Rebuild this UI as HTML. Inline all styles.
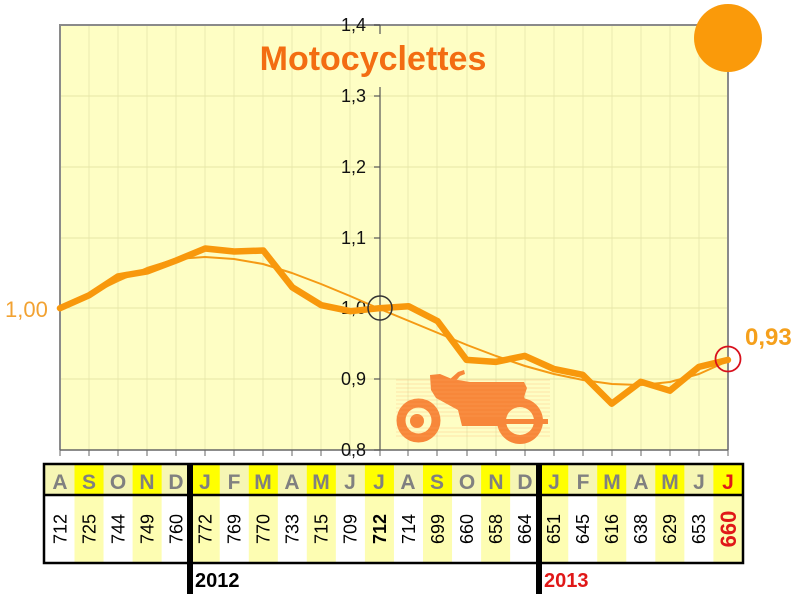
<!DOCTYPE html>
<html><head><meta charset="utf-8"><style>
html,body{margin:0;padding:0;background:#fff;}
svg{display:block;font-family:"Liberation Sans",Arial,sans-serif;}
</style></head><body>
<svg width="800" height="598" viewBox="0 0 800 598" xmlns="http://www.w3.org/2000/svg">
<!-- plot background -->
<rect x="60" y="25" width="668" height="425" fill="#fefec4"/>
<!-- vertical grid -->
<g stroke="#ebebb0" stroke-width="1">
<line x1="89" y1="25" x2="89" y2="450"/><line x1="118" y1="25" x2="118" y2="450"/><line x1="147" y1="25" x2="147" y2="450"/><line x1="176" y1="25" x2="176" y2="450"/><line x1="205" y1="25" x2="205" y2="450"/><line x1="234" y1="25" x2="234" y2="450"/><line x1="263" y1="25" x2="263" y2="450"/><line x1="292" y1="25" x2="292" y2="450"/><line x1="321" y1="25" x2="321" y2="450"/><line x1="350" y1="25" x2="350" y2="450"/><line x1="408" y1="25" x2="408" y2="450"/><line x1="437" y1="25" x2="437" y2="450"/><line x1="467" y1="25" x2="467" y2="450"/><line x1="496" y1="25" x2="496" y2="450"/><line x1="525" y1="25" x2="525" y2="450"/><line x1="554" y1="25" x2="554" y2="450"/><line x1="583" y1="25" x2="583" y2="450"/><line x1="612" y1="25" x2="612" y2="450"/><line x1="641" y1="25" x2="641" y2="450"/><line x1="670" y1="25" x2="670" y2="450"/><line x1="699" y1="25" x2="699" y2="450"/>
</g>
<!-- horizontal grid -->
<g stroke="#e6e6a6" stroke-width="1">
<line x1="60" y1="96" x2="728" y2="96"/><line x1="60" y1="167" x2="728" y2="167"/><line x1="60" y1="238" x2="728" y2="238"/><line x1="60" y1="308" x2="728" y2="308"/><line x1="60" y1="379" x2="728" y2="379"/>
</g>
<!-- plot border -->
<polyline points="60,450 60,25 728,25 728,450" fill="none" stroke="#8a8a8a" stroke-width="2"/>
<!-- x axis -->
<line x1="60" y1="450" x2="728" y2="450" stroke="#666" stroke-width="1.5"/>
<g stroke="#666" stroke-width="1">
<line x1="60" y1="450" x2="60" y2="456"/><line x1="89" y1="450" x2="89" y2="456"/><line x1="118" y1="450" x2="118" y2="456"/><line x1="147" y1="450" x2="147" y2="456"/><line x1="176" y1="450" x2="176" y2="456"/><line x1="205" y1="450" x2="205" y2="456"/><line x1="234" y1="450" x2="234" y2="456"/><line x1="263" y1="450" x2="263" y2="456"/><line x1="292" y1="450" x2="292" y2="456"/><line x1="321" y1="450" x2="321" y2="456"/><line x1="350" y1="450" x2="350" y2="456"/><line x1="380" y1="450" x2="380" y2="456"/><line x1="408" y1="450" x2="408" y2="456"/><line x1="437" y1="450" x2="437" y2="456"/><line x1="467" y1="450" x2="467" y2="456"/><line x1="496" y1="450" x2="496" y2="456"/><line x1="525" y1="450" x2="525" y2="456"/><line x1="554" y1="450" x2="554" y2="456"/><line x1="583" y1="450" x2="583" y2="456"/><line x1="612" y1="450" x2="612" y2="456"/><line x1="641" y1="450" x2="641" y2="456"/><line x1="670" y1="450" x2="670" y2="456"/><line x1="699" y1="450" x2="699" y2="456"/><line x1="728" y1="450" x2="728" y2="456"/>
</g>
<!-- y axis -->
<line x1="380" y1="25" x2="380" y2="34" stroke="#555" stroke-width="1.2"/>
<line x1="380" y1="87" x2="380" y2="450" stroke="#555" stroke-width="1.2"/>
<g stroke="#555" stroke-width="1.2">
<line x1="374" y1="25" x2="380" y2="25"/><line x1="374" y1="96" x2="380" y2="96"/><line x1="374" y1="167" x2="380" y2="167"/><line x1="374" y1="238" x2="380" y2="238"/><line x1="374" y1="308" x2="380" y2="308"/><line x1="374" y1="379" x2="380" y2="379"/><line x1="374" y1="450" x2="380" y2="450"/>
</g>
<g font-size="18" fill="#111" text-anchor="end">
<text x="366" y="31">1,4</text><text x="366" y="102">1,3</text><text x="366" y="173">1,2</text><text x="366" y="244">1,1</text><text x="366" y="314">1,0</text><text x="366" y="385">0,9</text><text x="366" y="456">0,8</text>
</g>
<!-- title -->
<text x="373" y="70" font-size="34" font-weight="bold" fill="#f36d12" text-anchor="middle">Motocyclettes</text>

<!-- motorcycle -->
<g fill="#f7873a">
<circle cx="418.5" cy="420.5" r="22"/>
<circle cx="520" cy="421" r="23"/>
<path d="M430,375 L440,374 L452,379 L470,382 L524,382 L527,388 L524,397 L515,402 L506,404 L503,418 L500,426 L462,426 L458,410 L447,404 L436,398 L431,390 Z"/>
<path d="M449,380 L458,372 L464,370 L465,374 L460,376 L454,383 Z"/>
<path d="M510,398 L524,396 L528,412 L522,414 Z"/>
</g>
<circle cx="418.5" cy="420.5" r="13" fill="#fefec4"/>
<circle cx="417" cy="421" r="7" fill="#f7873a"/>
<circle cx="520" cy="421" r="14" fill="#fefec4"/>
<rect x="500" y="419" width="48" height="5" fill="#f7873a"/>
<g stroke="#fba868" stroke-width="0.6" opacity="0.6">
<line x1="396" y1="380" x2="550" y2="380"/><line x1="396" y1="384" x2="550" y2="384"/><line x1="396" y1="388" x2="550" y2="388"/><line x1="396" y1="392" x2="550" y2="392"/><line x1="396" y1="396" x2="550" y2="396"/><line x1="396" y1="400" x2="550" y2="400"/><line x1="396" y1="404" x2="550" y2="404"/><line x1="396" y1="408" x2="550" y2="408"/><line x1="396" y1="412" x2="550" y2="412"/><line x1="396" y1="416" x2="550" y2="416"/><line x1="396" y1="428" x2="550" y2="428"/><line x1="396" y1="432" x2="550" y2="432"/><line x1="396" y1="436" x2="550" y2="436"/>
</g>

<!-- trend line -->
<polyline fill="none" stroke="#f59a14" stroke-width="2" stroke-linejoin="round" points="60,308 89,295 118,281 147,268 176,259 205,257 234,259 263,264 292,273 321,284 350,296 380,309 409,321 438,333 467,345 496,356 525,366 554,374 583,380 612,384 641,385 670,382 699,374 728,361"/>
<!-- data line -->
<polyline fill="none" stroke="#f8980c" stroke-width="6.5" stroke-linejoin="round" stroke-linecap="round" points="60,308.2 89.04,295.3 118.08,276.4 147.12,271.4 176.16,260.5 205.2,248.5 234.24,251.5 263.28,250.5 292.32,287.3 321.36,305.2 350.4,311.2 379.44,308.2 408.48,306.2 437.52,321.1 466.56,359.9 495.6,361.9 524.64,355.9 553.68,368.9 582.72,374.8 611.76,403.7 640.8,381.8 669.84,390.7 698.88,366.9 727.92,359.9"/>

<!-- markers -->
<circle cx="380" cy="308" r="12" fill="none" stroke="#333" stroke-width="1.5"/>
<circle cx="728" cy="359" r="12.5" fill="none" stroke="#d8101c" stroke-width="1.8"/>
<circle cx="728" cy="38" r="34" fill="#fa9a0a"/>

<text x="5" y="317" font-size="22" fill="#f2a232">1,00</text>
<text x="745" y="345" font-size="24" font-weight="bold" fill="#f5a01c">0,93</text>

<!-- table -->
<g>
<rect x="44" y="464" width="699" height="31" fill="#f6f6b4"/>
<g fill="#ffff00">
<rect x="74.5" y="464" width="29.04" height="31"/><rect x="132.6" y="464" width="29.04" height="31"/><rect x="190.7" y="464" width="29.04" height="31"/><rect x="248.8" y="464" width="29.04" height="31"/><rect x="306.8" y="464" width="29.04" height="31"/><rect x="364.9" y="464" width="29.04" height="31"/><rect x="423" y="464" width="29.04" height="31"/><rect x="481.1" y="464" width="29.04" height="31"/><rect x="539.2" y="464" width="29.04" height="31"/><rect x="597.2" y="464" width="29.04" height="31"/><rect x="655.3" y="464" width="29.04" height="31"/><rect x="713.4" y="464" width="29.6" height="31"/>
</g>
<rect x="44" y="495" width="699" height="68" fill="#ffffff"/>
<g fill="#fdfdb2">
<rect x="74.5" y="495" width="29.04" height="68"/><rect x="132.6" y="495" width="29.04" height="68"/><rect x="190.7" y="495" width="29.04" height="68"/><rect x="248.8" y="495" width="29.04" height="68"/><rect x="306.8" y="495" width="29.04" height="68"/><rect x="364.9" y="495" width="29.04" height="68"/><rect x="423" y="495" width="29.04" height="68"/><rect x="481.1" y="495" width="29.04" height="68"/><rect x="539.2" y="495" width="29.04" height="68"/><rect x="597.2" y="495" width="29.04" height="68"/><rect x="655.3" y="495" width="29.04" height="68"/><rect x="713.4" y="495" width="29.6" height="68"/>
</g>
<rect x="44" y="464" width="699" height="99" fill="none" stroke="#000" stroke-width="2.5"/>
<line x1="44" y1="495" x2="743" y2="495" stroke="#000" stroke-width="2.5"/>
<g font-size="21" font-weight="bold" fill="#808080" text-anchor="middle">
<text x="60" y="489">A</text><text x="89" y="489">S</text><text x="118" y="489">O</text><text x="147" y="489">N</text><text x="176" y="489">D</text><text x="205" y="489">J</text><text x="234" y="489">F</text><text x="263" y="489">M</text><text x="292" y="489">A</text><text x="321" y="489">M</text><text x="350" y="489">J</text><text x="379" y="489">J</text><text x="408" y="489">A</text><text x="437" y="489">S</text><text x="467" y="489">O</text><text x="496" y="489">N</text><text x="525" y="489">D</text><text x="554" y="489">J</text><text x="583" y="489">F</text><text x="612" y="489">M</text><text x="641" y="489">A</text><text x="670" y="489">M</text><text x="699" y="489">J</text><text x="728" y="489" fill="#e01818">J</text>
</g>
<g font-size="18" fill="#000" text-anchor="middle">
<text transform="translate(66.5,529) rotate(-90)">712</text>
<text transform="translate(95.5,529) rotate(-90)">725</text>
<text transform="translate(124.5,529) rotate(-90)">744</text>
<text transform="translate(153.5,529) rotate(-90)">749</text>
<text transform="translate(182.5,529) rotate(-90)">760</text>
<text transform="translate(211.5,529) rotate(-90)">772</text>
<text transform="translate(240.5,529) rotate(-90)">769</text>
<text transform="translate(269.5,529) rotate(-90)">770</text>
<text transform="translate(298.5,529) rotate(-90)">733</text>
<text transform="translate(327.5,529) rotate(-90)">715</text>
<text transform="translate(356.5,529) rotate(-90)">709</text>
<text transform="translate(386,529) rotate(-90)" font-weight="bold">712</text>
<text transform="translate(415,529) rotate(-90)">714</text>
<text transform="translate(444,529) rotate(-90)">699</text>
<text transform="translate(473,529) rotate(-90)">660</text>
<text transform="translate(502,529) rotate(-90)">658</text>
<text transform="translate(531,529) rotate(-90)">664</text>
<text transform="translate(560,529) rotate(-90)">651</text>
<text transform="translate(589,529) rotate(-90)">645</text>
<text transform="translate(618,529) rotate(-90)">616</text>
<text transform="translate(647,529) rotate(-90)">638</text>
<text transform="translate(676,529) rotate(-90)">629</text>
<text transform="translate(705,529) rotate(-90)">653</text>
<text transform="translate(736,529) rotate(-90)" font-weight="bold" font-size="22" fill="#e01818">660</text>
</g>
<rect x="187" y="463" width="6" height="131" fill="#000"/>
<rect x="536" y="463" width="6" height="131" fill="#000"/>
<text x="195" y="587" font-size="20" font-weight="bold" fill="#000">2012</text>
<text x="544" y="587" font-size="20" font-weight="bold" fill="#e01818">2013</text>
</g>
</svg>
</body></html>
